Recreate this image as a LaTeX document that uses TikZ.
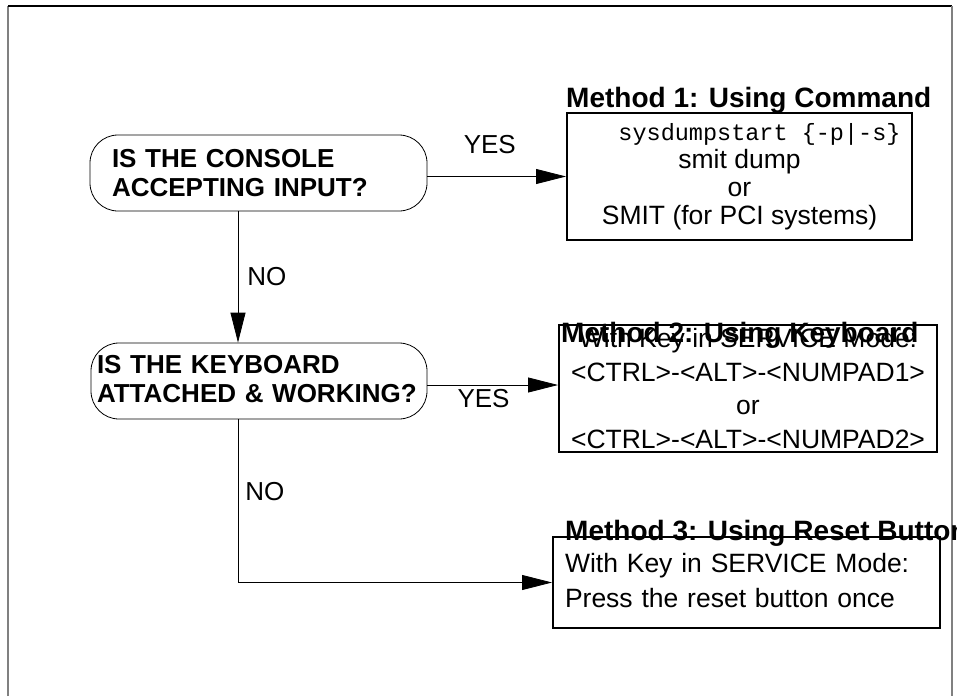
\documentclass[tikz,border=0pt]{standalone}
\usepackage{fontspec}
\setmainfont{Liberation Sans}
\setmonofont{Liberation Mono}
\usetikzlibrary{arrows.meta,positioning,calc}
\definecolor{cText}{HTML}{000000}
\definecolor{cFrame}{HTML}{808080}
\tikzset{
  qblk/.style={draw=cText, line width=0.8pt, rounded corners=28pt,
               minimum height=76pt, inner ysep=0pt, align=left,
               font=\bfseries\fontsize{26}{29}\selectfont},
  mblk/.style={draw=cText, line width=2pt, inner sep=0pt,
               font=\fontsize{26.5}{28}\selectfont},
  ttl/.style={inner sep=0pt, anchor=west, font=\bfseries\fontsize{28}{30}\selectfont},
  arr/.style={-{Triangle[length=30pt,width=15pt]}, line width=0.8pt, cText},
  lbl/.style={inner sep=0pt, font=\fontsize{26}{30}\selectfont, text=cText}
}
\newcommand{\cmd}[1]{{\ttfamily\fontsize{23.5}{28}\selectfont #1}}

\begin{document}
\begin{tikzpicture}[x=1pt, y=-1pt]
\useasboundingbox (0,0) rectangle (957,696);
% outer frame, open at the bottom
\draw[cFrame, line width=2pt] (8,696) -- (8,6);
\draw[cText, line width=1.5pt] (8,6) -- (952,6);
\draw[cFrame, line width=2pt] (952,6) -- (952,696);

% questions
\node[qblk, text width=293pt, inner xsep=22pt] (console) at (258.5,173)
  {IS THE CONSOLE\\ACCEPTING INPUT?};
\node[qblk, text width=324pt, inner xsep=6pt] (keyboard) at (259,381)
  {\raisebox{4pt}{IS THE KEYBOARD}\\\raisebox{4pt}{ATTACHED \& WORKING?}};

% methods
\node[mblk, minimum width=345pt, minimum height=127pt, align=center] (command) at (739.5,176.5)
  {\hspace*{40pt}\cmd{sysdumpstart \{-p|-s\}}\\smit dump\\or\\SMIT (for PCI systems)};
\node[mblk, minimum width=378pt, minimum height=127pt, align=center,
      font=\fontsize{26.5}{33.5}\selectfont] (keys) at (748,388.5)
  {With Key in SERVICE Mode:\\<CTRL>-<ALT>-<NUMPAD1>\\or\\<CTRL>-<ALT>-<NUMPAD2>};
\node[mblk, text width=363pt, inner xsep=12pt, minimum height=91pt, align=left,
      font=\fontsize{26.5}{35}\selectfont] (reset) at (746.5,582.5)
  {\raisebox{5pt}{With Key in SERVICE Mode:}\\\raisebox{5pt}{Press the reset button once}};

\node[ttl] (ttlcommand) at (566,100) {Method 1: Using Command};
\node[ttl] (ttlkeys) at (561,335) {Method 2: Using Keyboard};
\node[ttl] (ttlreset) at (565,533) {Method 3: Using Reset Button};

% connectors
\coordinate (trunk) at (238,0);
\draw[arr] (command.west -| console.east) -- (command.west)
  node[lbl, pos=0.45, above=22pt] (yes1) {YES};
\draw[arr] (console.south -| trunk) -- (keyboard.north -| trunk)
  node[lbl, midway, right=9pt] (no1) {NO};
\draw[arr] ($(keyboard.east)+(0,4)$) -- ($(keyboard.east -| keys.west)+(0,4)$)
  node[lbl, pos=0.43, below=4pt] (yes2) {YES};
\draw[arr] (keyboard.south -| trunk) |- (reset.west)
  node[lbl, pos=0.22, right=7pt] (no2) {NO};
\end{tikzpicture}
\end{document}
